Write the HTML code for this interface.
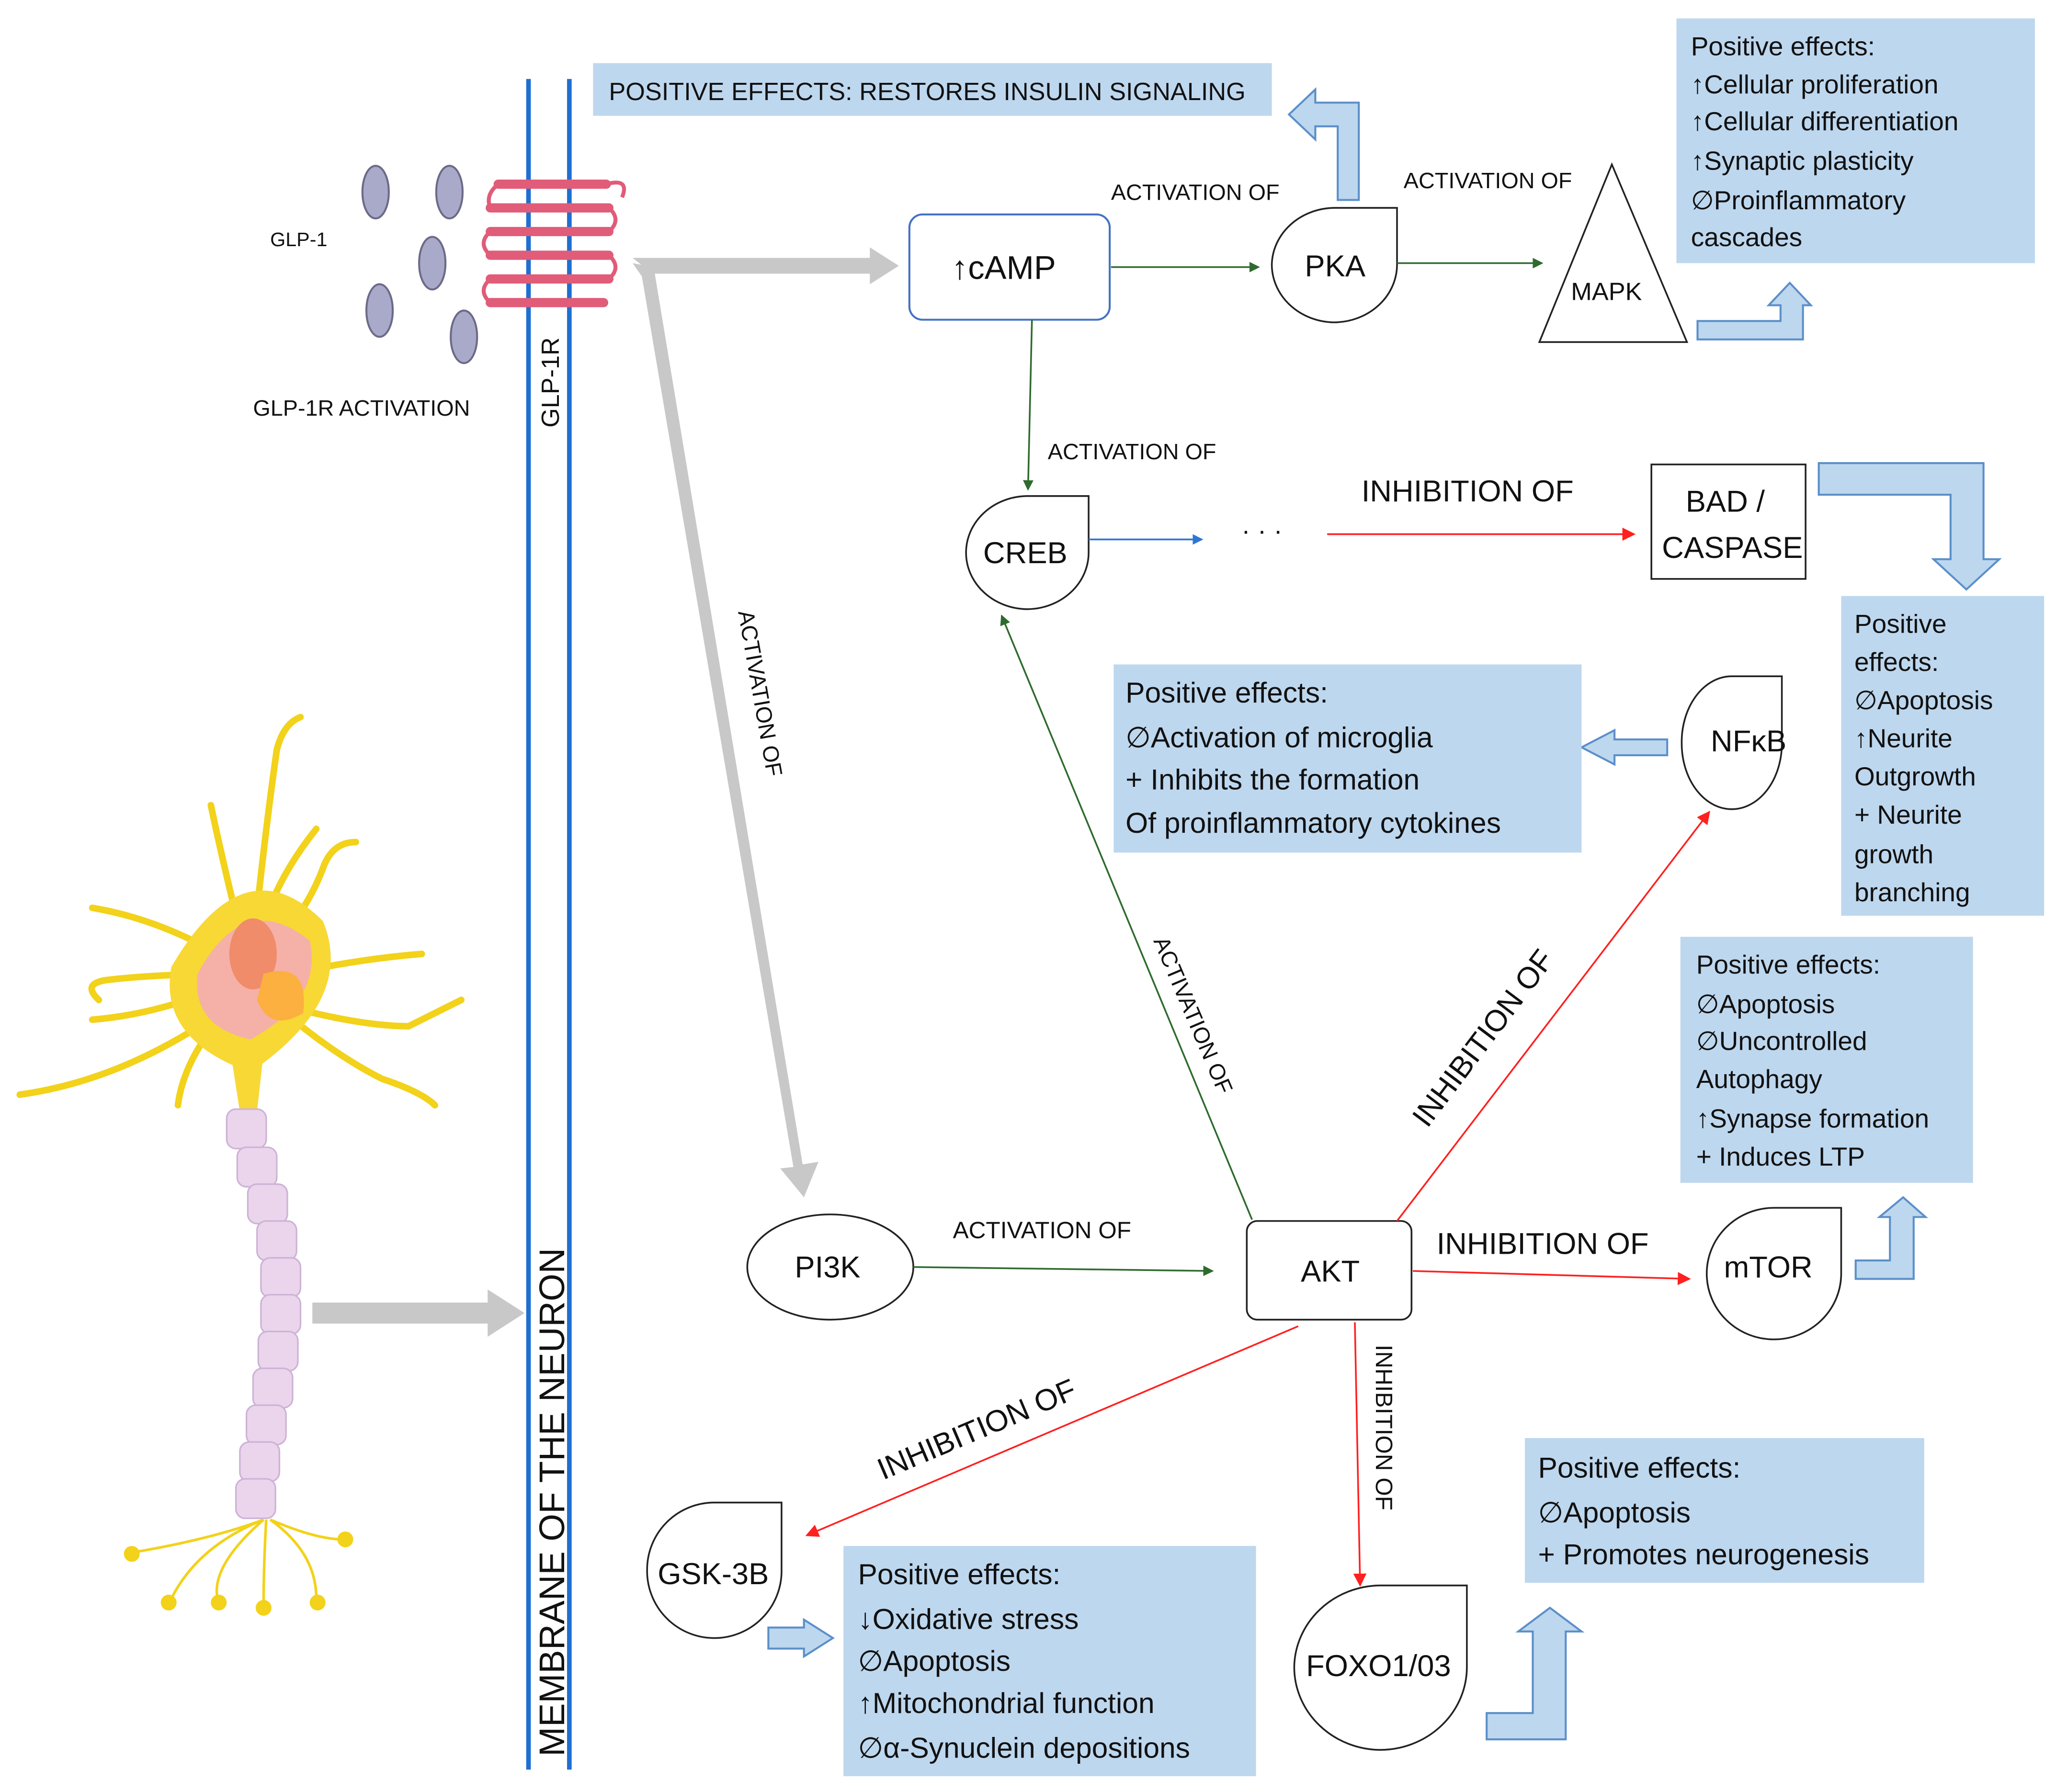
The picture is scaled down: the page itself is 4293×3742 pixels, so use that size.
<!DOCTYPE html>
<html><head><meta charset="utf-8"><style>
html,body{margin:0;padding:0;background:#fff}
svg{display:block}
text{font-family:"Liberation Sans",sans-serif;fill:#111}
.lab{font-size:17px}
.box{font-size:21px}
.node{font-size:23px}
.big{font-size:22px}
</style></head><body>
<svg width="4293" height="3742" viewBox="0 0 1560 1362" preserveAspectRatio="none" xmlns="http://www.w3.org/2000/svg">
<defs>
<marker id="ag" markerWidth="8" markerHeight="8" refX="7" refY="4" orient="auto" markerUnits="userSpaceOnUse"><path d="M0,0 L8,4 L0,8 Z" fill="#2E6B2E"/></marker>
<marker id="ar" markerWidth="10" markerHeight="10" refX="9" refY="5" orient="auto" markerUnits="userSpaceOnUse"><path d="M0,0 L10,5 L0,10 Z" fill="#FF2020"/></marker>
<marker id="ab" markerWidth="8" markerHeight="8" refX="7" refY="4" orient="auto" markerUnits="userSpaceOnUse"><path d="M0,0 L8,4 L0,8 Z" fill="#2E75D6"/></marker>
</defs>

<!-- membrane -->
<line x1="401" y1="60" x2="401" y2="1345" stroke="#1F6FD1" stroke-width="3.5"/>
<line x1="432" y1="60" x2="432" y2="1345" stroke="#1F6FD1" stroke-width="3.5"/>
<text class="lab" transform="translate(424,325) rotate(-90)" style="font-size:19px">GLP-1R</text>
<text transform="translate(428,1335) rotate(-90)" style="font-size:27px">MEMBRANE OF THE NEURON</text>

<!-- receptor -->
<g stroke="#E05C78" stroke-width="7" fill="none" stroke-linecap="round">
<line x1="378" y1="140" x2="460" y2="140"/>
<line x1="372" y1="158" x2="462" y2="158"/>
<line x1="372" y1="176" x2="462" y2="176"/>
<line x1="372" y1="194" x2="462" y2="194"/>
<line x1="372" y1="212" x2="462" y2="212"/>
<line x1="372" y1="230" x2="458" y2="230"/>
</g>
<path d="M460,140 Q478,135 472,150 M378,140 Q368,148 372,158 M462,158 Q472,167 462,176 M372,176 Q362,185 372,194 M462,194 Q472,203 462,212 M372,212 Q362,221 372,230" stroke="#E05C78" stroke-width="3" fill="none"/>

<!-- GLP-1 -->
<g fill="#A9A9C9" stroke="#6B6B88" stroke-width="1.5">
<ellipse cx="285" cy="146" rx="10" ry="20"/>
<ellipse cx="341" cy="146" rx="10" ry="20"/>
<ellipse cx="328" cy="200" rx="10" ry="20"/>
<ellipse cx="288" cy="236" rx="10" ry="20"/>
<ellipse cx="352" cy="256" rx="10" ry="20"/>
</g>
<text x="205" y="187" style="font-size:15px">GLP-1</text>
<text x="192" y="316" class="lab">GLP-1R ACTIVATION</text>

<!-- top box -->
<rect x="450" y="48" width="515" height="40" fill="#BDD7EE"/>
<text x="462" y="76" class="lab" style="font-size:19px">POSITIVE EFFECTS: RESTORES INSULIN SIGNALING</text>

<!-- big gray arrows -->
<polygon points="480,196 660,196 660,188 682,202 660,216 660,208 495,208" fill="#C8C8C8"/>
<polygon points="480,200 496,203 609,885 621,883 610,910 592,888 602,887 487,210" fill="#C8C8C8"/>
<text class="lab" transform="translate(560,465) rotate(80)">ACTIVATION OF</text>

<!-- cAMP -->
<rect x="690" y="163" width="152" height="80" rx="10" fill="#fff" stroke="#4472C4" stroke-width="1.5"/>
<text x="722" y="212" class="node" style="font-size:25px">↑cAMP</text>
<text x="843" y="152" class="lab">ACTIVATION OF</text>
<line x1="843" y1="203" x2="955" y2="203" stroke="#2E6B2E" stroke-width="1.3" marker-end="url(#ag)"/>

<!-- PKA -->
<path d="M1012,158 L1060,158 L1060,201 A48,44 0 0 1 1012,245 A48,44 0 0 1 965,201 A48,44 0 0 1 1012,158 Z" fill="#fff" stroke="#222" stroke-width="1.3"/>
<text x="990" y="210" class="node">PKA</text>
<line x1="1060" y1="200" x2="1170" y2="200" stroke="#2E6B2E" stroke-width="1.3" marker-end="url(#ag)"/>
<text x="1065" y="143" class="lab">ACTIVATION OF</text>
<polygon points="1168,260 1223,125 1280,260" fill="#fff" stroke="#222" stroke-width="1.3"/>
<text x="1192" y="228" style="font-size:19px">MAPK</text>

<!-- hollow arrows -->
<g fill="#BDD7EE" stroke="#5B8FC9" stroke-width="1.5">
<polygon points="1015,152 1015,96 998,96 998,106 978,87 998,68 998,78 1031,78 1031,152"/>
<polygon points="1288,258 1368,258 1368,232 1374,232 1358,215 1342,232 1351,232 1351,244 1288,244"/>
<polygon points="1380,352 1505,352 1505,425 1517,425 1492,448 1467,425 1480,425 1480,376 1380,376"/>
<polygon points="1265,562 1225,562 1225,555 1200,568 1225,581 1225,574 1265,574"/>
<polygon points="1408,958 1434,958 1434,925 1426,925 1444,910 1461,925 1452,925 1452,972 1408,972"/>
<polygon points="583,1237 610,1237 610,1231 632,1245 610,1259 610,1253 583,1253"/>
<polygon points="1128,1302 1163,1302 1163,1240 1152,1240 1176,1222 1200,1240 1188,1240 1188,1322 1128,1322"/>
</g>

<!-- top right box -->
<rect x="1272" y="14" width="272" height="186" fill="#BDD7EE"/>
<g class="box" style="font-size:20px">
<text x="1283" y="42">Positive effects:</text>
<text x="1283" y="71">↑Cellular proliferation</text>
<text x="1283" y="99">↑Cellular differentiation</text>
<text x="1283" y="129">↑Synaptic plasticity</text>
<text x="1283" y="159">∅Proinflammatory</text>
<text x="1283" y="187">cascades</text>
</g>

<!-- CREB -->
<line x1="783" y1="243" x2="780" y2="372" stroke="#2E6B2E" stroke-width="1.3" marker-end="url(#ag)"/>
<text x="795" y="349" class="lab">ACTIVATION OF</text>
<path d="M779,377 L826,377 L826,420 A47,43 0 0 1 779,463 A47,43 0 0 1 733,420 A47,43 0 0 1 779,377 Z" fill="#fff" stroke="#222" stroke-width="1.3"/>
<text x="746" y="428" class="node">CREB</text>
<line x1="826" y1="410" x2="912" y2="410" stroke="#2E75D6" stroke-width="1.3" marker-end="url(#ab)"/>
<text x="942" y="410" style="font-size:20px">· · ·</text>
<line x1="1007" y1="406" x2="1240" y2="406" stroke="#FF2020" stroke-width="1.3" marker-end="url(#ar)"/>
<text x="1033" y="381" class="big" style="font-size:23px">INHIBITION OF</text>
<rect x="1253" y="353" width="117" height="87" fill="#fff" stroke="#222" stroke-width="1.3"/>
<text x="1279" y="389" class="node">BAD /</text>
<text x="1261" y="424" class="node">CASPASE</text>

<!-- right box 2 -->
<rect x="1397" y="453" width="154" height="243" fill="#BDD7EE"/>
<g style="font-size:20px">
<text x="1407" y="481">Positive</text>
<text x="1407" y="510">effects:</text>
<text x="1407" y="539">∅Apoptosis</text>
<text x="1407" y="568">↑Neurite</text>
<text x="1407" y="597">Outgrowth</text>
<text x="1407" y="626">+ Neurite</text>
<text x="1407" y="656">growth</text>
<text x="1407" y="685">branching</text>
</g>

<!-- NFkB -->
<path d="M1314,514 L1352,514 L1352,565 A38,50 0 0 1 1314,615 A38,50 0 0 1 1276,565 A38,50 0 0 1 1314,514 Z" fill="#fff" stroke="#222" stroke-width="1.3"/>
<text x="1298" y="571" class="node">NFκB</text>
<rect x="845" y="505" width="355" height="143" fill="#BDD7EE"/>
<g class="box" style="font-size:22px">
<text x="854" y="534">Positive effects:</text>
<text x="854" y="568">∅Activation of microglia</text>
<text x="854" y="600">+ Inhibits the formation</text>
<text x="854" y="633">Of proinflammatory cytokines</text>
</g>

<!-- neuron -->
<g stroke="#F2D21A" stroke-width="5" fill="none" stroke-linecap="round">
<path d="M190,740 Q200,640 210,570 Q215,550 228,545"/>
<path d="M190,740 Q170,660 160,612"/>
<path d="M195,730 Q230,700 245,660 Q252,640 270,640"/>
<path d="M190,740 Q130,700 70,690"/>
<path d="M190,740 Q120,740 80,745 Q62,748 75,760"/>
<path d="M190,740 Q130,770 70,775"/>
<path d="M180,760 Q100,820 15,832"/>
<path d="M180,760 Q140,800 135,840"/>
<path d="M200,760 Q270,780 310,780 Q330,770 350,760"/>
<path d="M200,745 Q260,730 320,725"/>
<path d="M205,760 Q250,800 290,820 Q320,830 330,840"/>
<path d="M195,730 Q200,680 240,630"/>
</g>
<g stroke="#F2D21A" stroke-width="2" fill="none">
<path d="M200,1155 Q160,1170 100,1180"/>
<path d="M200,1155 Q150,1175 130,1215"/>
<path d="M200,1155 Q160,1190 165,1215"/>
<path d="M202,1155 Q200,1190 200,1220"/>
<path d="M205,1155 Q240,1180 240,1215"/>
<path d="M205,1155 Q240,1170 260,1170"/>
</g>
<g fill="#F2D21A"><circle cx="100" cy="1181" r="6"/><circle cx="128" cy="1218" r="6"/><circle cx="166" cy="1218" r="6"/><circle cx="200" cy="1222" r="6"/><circle cx="241" cy="1218" r="6"/><circle cx="262" cy="1170" r="6"/></g>
<path d="M130,735 Q185,640 245,700 Q270,760 190,815 Q120,790 130,735 Z" fill="#F8D835"/>
<path d="M150,740 Q185,675 235,715 Q245,760 190,790 Q145,780 150,740 Z" fill="#F5B0A8"/>
<ellipse cx="192" cy="725" rx="18" ry="27" fill="#F08C6A"/>
<path d="M200,740 Q235,730 230,770 Q205,785 195,760 Z" fill="#FBB040"/>
<path d="M175,800 L200,800 L195,845 L182,845 Z" fill="#F8D835"/>
<g fill="#EBD5EC" stroke="#CDB3D6" stroke-width="1.2">
<rect x="172" y="843" width="30" height="30" rx="7"/>
<rect x="180" y="872" width="30" height="30" rx="7"/>
<rect x="188" y="900" width="30" height="30" rx="7"/>
<rect x="195" y="928" width="30" height="30" rx="7"/>
<rect x="198" y="956" width="30" height="30" rx="7"/>
<rect x="198" y="984" width="30" height="30" rx="7"/>
<rect x="196" y="1012" width="30" height="30" rx="7"/>
<rect x="192" y="1040" width="30" height="30" rx="7"/>
<rect x="187" y="1068" width="30" height="30" rx="7"/>
<rect x="182" y="1096" width="30" height="30" rx="7"/>
<rect x="179" y="1124" width="30" height="30" rx="7"/>
</g>
<polygon points="237,990 370,990 370,980 398,998 370,1016 370,1006 237,1006" fill="#C8C8C8"/>

<!-- PI3K -->
<ellipse cx="630" cy="963" rx="63" ry="40" fill="#fff" stroke="#222" stroke-width="1.3"/>
<text x="603" y="971" class="node">PI3K</text>
<text x="723" y="941" class="lab" style="font-size:18px">ACTIVATION  OF</text>
<line x1="693" y1="963" x2="920" y2="966" stroke="#2E6B2E" stroke-width="1.3" marker-end="url(#ag)"/>

<!-- AKT -->
<rect x="946" y="928" width="125" height="75" rx="8" fill="#fff" stroke="#222" stroke-width="1.3"/>
<text x="987" y="974" class="node">AKT</text>
<line x1="950" y1="927" x2="760" y2="468" stroke="#2E6B2E" stroke-width="1.3" marker-end="url(#ag)"/>
<text class="lab" transform="translate(875,715) rotate(67)">ACTIVATION OF</text>
<line x1="1060" y1="928" x2="1297" y2="617" stroke="#FF2020" stroke-width="1.3" marker-end="url(#ar)"/>
<text class="big" transform="translate(1083,858) rotate(-53)" style="font-size:23px">INHIBITION OF</text>

<rect x="1275" y="712" width="222" height="187" fill="#BDD7EE"/>
<g style="font-size:20px">
<text x="1287" y="740">Positive effects:</text>
<text x="1287" y="770">∅Apoptosis</text>
<text x="1287" y="798">∅Uncontrolled</text>
<text x="1287" y="827">Autophagy</text>
<text x="1287" y="857">↑Synapse formation</text>
<text x="1287" y="886">+ Induces LTP</text>
</g>

<line x1="1072" y1="966" x2="1282" y2="972" stroke="#FF2020" stroke-width="1.3" marker-end="url(#ar)"/>
<text x="1090" y="953" class="big" style="font-size:23px">INHIBITION OF</text>
<path d="M1346,918 L1397,918 L1397,968 A51,50 0 0 1 1346,1018 A51,50 0 0 1 1295,968 A51,50 0 0 1 1346,918 Z" fill="#fff" stroke="#222" stroke-width="1.3"/>
<text x="1308" y="971" class="node">mTOR</text>

<line x1="985" y1="1008" x2="612" y2="1167" stroke="#FF2020" stroke-width="1.3" marker-end="url(#ar)"/>
<text class="big" transform="translate(670,1125) rotate(-23)" style="font-size:23px">INHIBITION OF</text>
<line x1="1028" y1="1005" x2="1032" y2="1205" stroke="#FF2020" stroke-width="1.3" marker-end="url(#ar)"/>
<text class="lab" transform="translate(1044,1022) rotate(90)" style="font-size:18px">INHIBITION  OF</text>

<!-- GSK -->
<path d="M542,1142 L593,1142 L593,1193 A51,51 0 0 1 542,1245 A51,51 0 0 1 491,1193 A51,51 0 0 1 542,1142 Z" fill="#fff" stroke="#222" stroke-width="1.3"/>
<text x="499" y="1204" class="node">GSK-3B</text>
<rect x="640" y="1175" width="313" height="175" fill="#BDD7EE"/>
<g style="font-size:22px">
<text x="651" y="1204">Positive effects:</text>
<text x="651" y="1238">↓Oxidative stress</text>
<text x="651" y="1270">∅Apoptosis</text>
<text x="651" y="1302">↑Mitochondrial function</text>
<text x="651" y="1336">∅α-Synuclein depositions</text>
</g>

<!-- FOXO -->
<path d="M1047,1205 L1113,1205 L1113,1267 A66,63 0 0 1 1047,1330 A66,63 0 0 1 982,1267 A66,63 0 0 1 1047,1205 Z" fill="#fff" stroke="#222" stroke-width="1.3"/>
<text x="991" y="1274" class="node">FOXO1/03</text>
<rect x="1157" y="1093" width="303" height="110" fill="#BDD7EE"/>
<g style="font-size:22px">
<text x="1167" y="1123">Positive effects:</text>
<text x="1167" y="1157">∅Apoptosis</text>
<text x="1167" y="1189">+ Promotes neurogenesis</text>
</g>
</svg>
</body></html>
